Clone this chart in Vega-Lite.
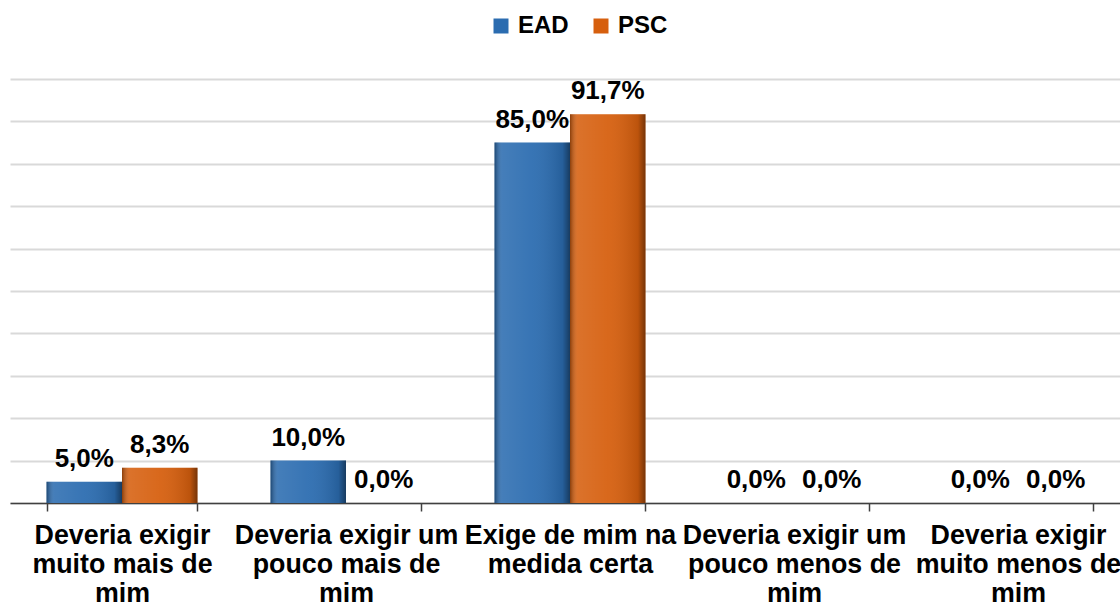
{
  "$schema": "https://vega.github.io/schema/vega-lite/v6.json",
  "width": 1120,
  "height": 424,
  "autosize": {"type": "none"},
  "padding": {"left": 10, "top": 79, "right": -10, "bottom": 104},
  "config": {
    "view": {"stroke": null},
    "font": "Liberation Sans",
    "locale": {"number": {"decimal": ",", "thousands": ".", "grouping": [3], "currency": ["", ""]}}
  },
  "data": {
    "values": [
      {"cat": "Deveria exigir|muito mais de|mim", "serie": "EAD", "valor": 0.05},
      {"cat": "Deveria exigir|muito mais de|mim", "serie": "PSC", "valor": 0.083},
      {"cat": "Deveria exigir um|pouco mais de|mim", "serie": "EAD", "valor": 0.10},
      {"cat": "Deveria exigir um|pouco mais de|mim", "serie": "PSC", "valor": 0.0},
      {"cat": "Exige de mim na|medida certa", "serie": "EAD", "valor": 0.85},
      {"cat": "Exige de mim na|medida certa", "serie": "PSC", "valor": 0.917},
      {"cat": "Deveria exigir um|pouco menos de|mim", "serie": "EAD", "valor": 0.0},
      {"cat": "Deveria exigir um|pouco menos de|mim", "serie": "PSC", "valor": 0.0},
      {"cat": "Deveria exigir|muito menos de|mim", "serie": "EAD", "valor": 0.0},
      {"cat": "Deveria exigir|muito menos de|mim", "serie": "PSC", "valor": 0.0}
    ]
  },
  "encoding": {
    "x": {
      "field": "cat",
      "type": "nominal",
      "sort": null,
      "scale": {"paddingInner": 0.326, "paddingOuter": 0.163},
      "axis": {
        "title": null,
        "labelAngle": 0,
        "labelExpr": "split(datum.label, '|')",
        "labelFontSize": 26.8,
        "labelFontWeight": "bold",
        "labelColor": "#000000",
        "labelLineHeight": 29,
        "labelPadding": 11,
        "labelLimit": 400,
        "tickBand": "extent",
        "tickSize": 8,
        "tickColor": "#404040",
        "tickWidth": 1.5,
        "domainColor": "#404040",
        "domainWidth": 1.5,
        "grid": false
      }
    },
    "xOffset": {"field": "serie", "type": "nominal", "sort": ["EAD", "PSC"]},
    "y": {
      "field": "valor",
      "type": "quantitative",
      "scale": {"domain": [0, 1]},
      "axis": {
        "title": null,
        "labels": false,
        "ticks": false,
        "domain": false,
        "values": [0, 0.1, 0.2, 0.3, 0.4, 0.5, 0.6, 0.7, 0.8, 0.9, 1.0],
        "gridColor": "#D9D9D9",
        "gridWidth": 2
      }
    }
  },
  "layer": [
    {
      "mark": {"type": "bar"},
      "encoding": {
        "color": {
          "field": "serie",
          "type": "nominal",
          "scale": {"domain": ["EAD", "PSC"], "range": ["#2B6CB0", "#D65F0E"]},
          "legend": {
            "orient": "none",
            "legendX": 479,
            "legendY": -65,
            "direction": "horizontal",
            "title": null,
            "symbolType": "square",
            "symbolSize": 225,
            "symbolStrokeWidth": 0,
            "labelFontSize": 24,
            "labelFontWeight": "bold",
            "labelColor": "#000000",
            "labelOffset": 5,
            "columnPadding": 20
          }
        }
      }
    },
    {
      "mark": {
        "type": "bar",
        "fill": {
          "gradient": "linear",
          "x1": 0, "y1": 0, "x2": 1, "y2": 0,
          "stops": [
            {"offset": 0, "color": "rgba(0,0,0,0.35)"},
            {"offset": 0.1, "color": "rgba(255,255,255,0.12)"},
            {"offset": 0.5, "color": "rgba(255,255,255,0.06)"},
            {"offset": 0.9, "color": "rgba(0,0,0,0.12)"},
            {"offset": 1, "color": "rgba(0,0,0,0.45)"}
          ]
        }
      }
    },
    {
      "mark": {"type": "text", "baseline": "alphabetic", "dy": -15, "fontSize": 26, "fontWeight": "bold", "color": "#000000"},
      "encoding": {"text": {"field": "valor", "type": "quantitative", "format": ".1%"}}
    }
  ]
}
